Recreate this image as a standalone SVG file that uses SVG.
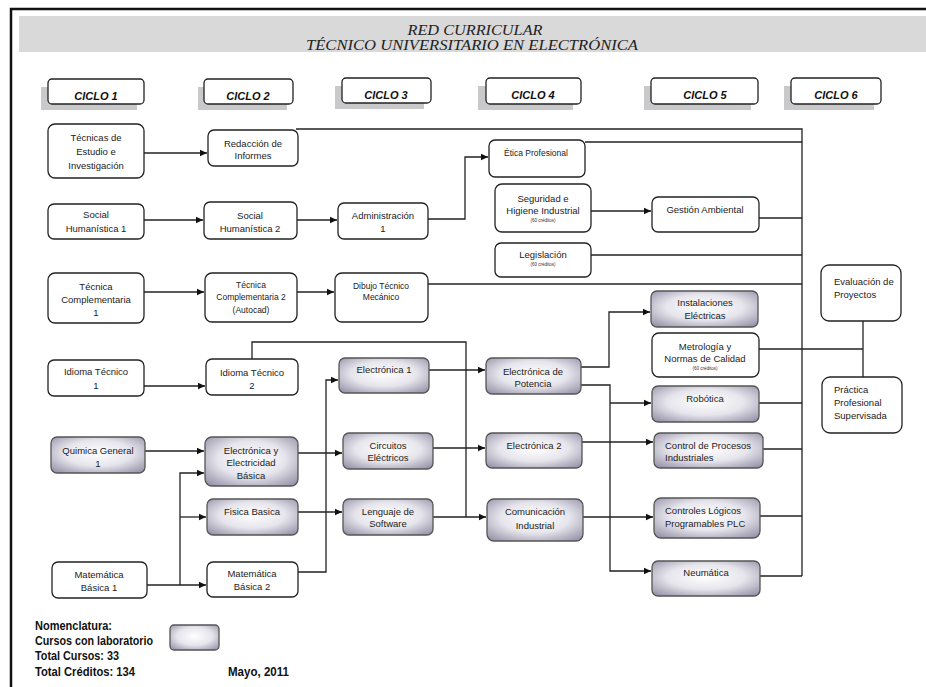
<svg xmlns="http://www.w3.org/2000/svg" width="926" height="687" viewBox="0 0 926 687">
<defs>
<radialGradient id="lab" cx="50%" cy="45%" r="72%">
<stop offset="0" stop-color="#ffffff"/>
<stop offset="0.5" stop-color="#e6e5ec"/>
<stop offset="1" stop-color="#8f8ca2"/>
</radialGradient>
<marker id="ar" markerWidth="8" markerHeight="8" refX="7" refY="4" orient="auto" markerUnits="userSpaceOnUse">
<path d="M0,0.8 L7,4 L0,7.2 Z" fill="#111"/>
</marker>
<style>
.n{fill:#fff;stroke:#222;stroke-width:1.3}
.l{fill:url(#lab);stroke:#555;stroke-width:1.3}
.hd{fill:#fff;stroke:#222;stroke-width:1.3}
.sh{fill:#c9c9cb}
.t{font-family:"Liberation Sans",Arial,sans-serif;font-size:9.5px;fill:#222;text-anchor:middle}
.ts{font-family:"Liberation Sans",Arial,sans-serif;font-size:4.5px;fill:#333;text-anchor:middle}
.tl{text-anchor:start}
.h{font-family:"Liberation Sans",Arial,sans-serif;font-size:11px;font-weight:bold;font-style:italic;fill:#111;text-anchor:middle}
.ti{font-family:"Liberation Serif","Times New Roman",serif;font-size:15px;font-style:italic;fill:#222;text-anchor:middle}
.lg{font-family:"Liberation Sans",Arial,sans-serif;font-size:12.5px;font-weight:bold;fill:#111}
.c{fill:none;stroke:#222;stroke-width:1.3}
.a{marker-end:url(#ar)}
</style>
</defs>
<rect x="0" y="0" width="926" height="687" fill="#fff"/>
<path d="M11,687 V9 H926" fill="none" stroke="#111" stroke-width="2.5"/>
<g id="title">
<rect x="19" y="16" width="907" height="36" fill="#d9d9d9"/>
<text class="ti" x="475" y="35" textLength="135" lengthAdjust="spacingAndGlyphs">RED CURRICULAR</text>
<text class="ti" x="472" y="50" textLength="332" lengthAdjust="spacingAndGlyphs">TÉCNICO UNIVERSITARIO EN ELECTRÓNICA</text>
</g>
<g id="headers">
<g id="ciclo1"><rect class="sh" x="41" y="87" width="96" height="23"/><rect class="hd" x="48" y="79" width="96" height="25" rx="4"/><text class="h" x="96" y="100">CICLO 1</text></g>
<g id="ciclo2"><rect class="sh" x="198" y="87" width="89" height="23"/><rect class="hd" x="204" y="79" width="89" height="25" rx="4"/><text class="h" x="248" y="100">CICLO 2</text></g>
<g id="ciclo3"><rect class="sh" x="335" y="86" width="89" height="23"/><rect class="hd" x="342" y="78" width="89" height="25" rx="4"/><text class="h" x="386" y="99">CICLO 3</text></g>
<g id="ciclo4"><rect class="sh" x="478" y="86" width="95" height="24"/><rect class="hd" x="486" y="78" width="95" height="26" rx="4"/><text class="h" x="533" y="99">CICLO 4</text></g>
<g id="ciclo5"><rect class="sh" x="644" y="86" width="107" height="24"/><rect class="hd" x="651" y="78" width="107" height="26" rx="4"/><text class="h" x="705" y="99">CICLO 5</text></g>
<g id="ciclo6"><rect class="sh" x="784" y="86" width="90" height="24"/><rect class="hd" x="791" y="78" width="90" height="26" rx="4"/><text class="h" x="836" y="99">CICLO 6</text></g>
</g>
<g id="connectors">
<path class="c" d="M296,129 H802 V576"/>
<path class="c a" d="M144,153 H207"/>
<path class="c a" d="M144,220 H203"/>
<path class="c a" d="M297,220 H337"/>
<path class="c a" d="M428,219 H465 V157 H488"/>
<path class="c" d="M585,142 H802"/>
<path class="c a" d="M591,211 H651"/>
<path class="c" d="M759,218 H802"/>
<path class="c" d="M591,255 H802"/>
<path class="c a" d="M144,292 H204"/>
<path class="c a" d="M297,292 H334"/>
<path class="c" d="M428,284 H802"/>
<path class="c a" d="M144,386 H205"/>
<path class="c" d="M252,359 V342 H466 V517"/>
<path class="c a" d="M429,370 H485"/>
<path class="c a" d="M433,448 H485"/>
<path class="c a" d="M433,517 H486"/>
<path class="c a" d="M145,451 H204"/>
<path class="c a" d="M298,453 H342"/>
<path class="c a" d="M298,512 H342"/>
<path class="c a" d="M298,572 H326 V380 H338"/>
<path class="c a" d="M147,585 H206"/>
<path class="c a" d="M180,585 V473 H204"/>
<path class="c a" d="M180,517 H206"/>
<path class="c a" d="M581,367 H609 V312 H650"/>
<path class="c a" d="M581,385 H610 V571 H651"/>
<path class="c a" d="M610,403 H651"/>
<path class="c a" d="M582,442 H653"/>
<path class="c a" d="M583,517 H653"/>
<path class="c" d="M759,403 H802"/>
<path class="c" d="M763,449 H802"/>
<path class="c" d="M760,516 H802"/>
<path class="c" d="M760,576 H802"/>
<path class="c" d="M759,349 H863"/>
<path class="c" d="M863,321 V377"/>
</g>
<g id="n-tecnicas-estudio"><rect class="n" x="48" y="124" width="96" height="54" rx="7"/><text class="t" x="96" y="141">Técnicas de</text><text class="t" x="96" y="155">Estudio e</text><text class="t" x="96" y="169">Investigación</text></g>
<g id="n-social1"><rect class="n" x="48" y="204" width="96" height="35" rx="6"/><text class="t" x="96" y="218">Social</text><text class="t" x="96" y="232">Humanística 1</text></g>
<g id="n-tecnica-comp1"><rect class="n" x="48" y="273" width="96" height="50" rx="7"/><text class="t" x="96" y="290">Técnica</text><text class="t" x="96" y="303">Complementaria</text><text class="t" x="96" y="316">1</text></g>
<g id="n-idioma1"><rect class="n" x="48" y="360" width="96" height="36" rx="6"/><text class="t" x="96" y="375">Idioma Técnico</text><text class="t" x="96" y="389">1</text></g>
<g id="n-quimica"><rect class="l" x="51" y="437" width="94" height="36" rx="6"/><text class="t" x="98" y="454">Quimica General</text><text class="t" x="98" y="467">1</text></g>
<g id="n-matematica1"><rect class="n" x="52" y="562" width="95" height="36" rx="6"/><text class="t" x="99" y="578">Matemática</text><text class="t" x="99" y="591">Básica 1</text></g>
<g id="n-redaccion"><rect class="n" x="208" y="130" width="90" height="36" rx="6"/><text class="t" x="253" y="147">Redacción de</text><text class="t" x="253" y="159">Informes</text></g>
<g id="n-social2"><rect class="n" x="204" y="202" width="93" height="37" rx="6"/><text class="t" x="250" y="219">Social</text><text class="t" x="250" y="232">Humanística 2</text></g>
<g id="n-tecnica-comp2"><rect class="n" x="205" y="273" width="92" height="49" rx="7"/><text class="t" x="251" y="288" style="font-size:8.5px">Técnica</text><text class="t" x="251" y="300" style="font-size:8.5px">Complementaria  2</text><text class="t" x="251" y="313" style="font-size:8.5px">(Autocad)</text></g>
<g id="n-idioma2"><rect class="n" x="206" y="359" width="92" height="36" rx="6"/><text class="t" x="252" y="376">Idioma Técnico</text><text class="t" x="252" y="389">2</text></g>
<g id="n-electronica-electricidad"><rect class="l" x="205" y="437" width="93" height="49" rx="7"/><text class="t" x="251" y="454">Electrónica y</text><text class="t" x="251" y="466">Electricidad</text><text class="t" x="251" y="479">Básica</text></g>
<g id="n-fisica"><rect class="l" x="207" y="499" width="91" height="36" rx="6"/><text class="t" x="252" y="515">Fisica Basica</text></g>
<g id="n-matematica2"><rect class="n" x="207" y="562" width="91" height="35" rx="6"/><text class="t" x="252" y="577">Matemática</text><text class="t" x="252" y="590">Básica 2</text></g>
<g id="n-administracion"><rect class="n" x="338" y="203" width="90" height="36" rx="6"/><text class="t" x="383" y="219">Administración</text><text class="t" x="383" y="232">1</text></g>
<g id="n-dibujo"><rect class="n" x="335" y="273" width="93" height="49" rx="7"/><text class="t" x="381" y="289" style="font-size:8.5px">Dibujo Técnico</text><text class="t" x="381" y="300" style="font-size:8.5px">Mecánico</text></g>
<g id="n-electronica1"><rect class="l" x="339" y="358" width="90" height="35" rx="6"/><text class="t" x="384" y="373">Electrónica 1</text></g>
<g id="n-circuitos"><rect class="l" x="343" y="433" width="90" height="36" rx="6"/><text class="t" x="388" y="449">Circuitos</text><text class="t" x="388" y="461">Eléctricos</text></g>
<g id="n-lenguaje"><rect class="l" x="343" y="499" width="90" height="36" rx="6"/><text class="t" x="388" y="515">Lenguaje de</text><text class="t" x="388" y="527">Software</text></g>
<g id="n-etica"><rect class="n" x="489" y="140" width="96" height="37" rx="6"/><text class="t" x="536" y="156" style="font-size:8.5px">Ética Profesional</text></g>
<g id="n-seguridad"><rect class="n" x="495" y="184" width="96" height="48" rx="7"/><text class="t" x="543" y="202">Seguridad e</text><text class="t" x="543" y="214">Higiene Industrial</text><text class="ts" x="543" y="222">(60 créditos)</text></g>
<g id="n-legislacion"><rect class="n" x="495" y="243" width="96" height="34" rx="6"/><text class="t" x="543" y="258">Legislación</text><text class="ts" x="543" y="266">(60 créditos)</text></g>
<g id="n-potencia"><rect class="l" x="486" y="358" width="95" height="36" rx="6"/><text class="t" x="533" y="375">Electrónica de</text><text class="t" x="533" y="387">Potencia</text></g>
<g id="n-electronica2"><rect class="l" x="486" y="433" width="96" height="35" rx="6"/><text class="t" x="534" y="449">Electrónica 2</text></g>
<g id="n-comunicacion"><rect class="l" x="487" y="499" width="96" height="42" rx="7"/><text class="t" x="535" y="515">Comunicación</text><text class="t" x="535" y="529">Industrial</text></g>
<g id="n-gestion"><rect class="n" x="652" y="197" width="107" height="35" rx="6"/><text class="t" x="705" y="213">Gestión  Ambiental</text></g>
<g id="n-instalaciones"><rect class="l" x="651" y="291" width="107" height="36" rx="6"/><text class="t" x="705" y="306">Instalaciones</text><text class="t" x="705" y="319">Eléctricas</text></g>
<g id="n-metrologia"><rect class="n" x="652" y="333" width="107" height="44" rx="7"/><text class="t" x="705" y="350">Metrología y</text><text class="t" x="705" y="362">Normas de Calidad</text><text class="ts" x="705" y="370">(60 créditos)</text></g>
<g id="n-robotica"><rect class="l" x="652" y="386" width="107" height="36" rx="6"/><text class="t" x="705" y="402">Robótica</text></g>
<g id="n-control"><rect class="l" x="654" y="433" width="109" height="35" rx="6"/><text class="t tl" x="665" y="449">Control de Procesos</text><text class="t tl" x="665" y="461">Industriales</text></g>
<g id="n-plc"><rect class="l" x="654" y="498" width="106" height="40" rx="7"/><text class="t tl" x="665" y="514">Controles Lógicos</text><text class="t tl" x="665" y="527">Programables PLC</text></g>
<g id="n-neumatica"><rect class="l" x="652" y="561" width="108" height="35" rx="6"/><text class="t" x="706" y="576">Neumática</text></g>
<g id="n-evaluacion"><rect class="n" x="821" y="265" width="80" height="56" rx="8"/><text class="t tl" x="834" y="285">Evaluación de</text><text class="t tl" x="834" y="298">Proyectos</text></g>
<g id="n-practica"><rect class="n" x="822" y="377" width="80" height="56" rx="8"/><text class="t tl" x="834" y="393">Práctica</text><text class="t tl" x="834" y="406">Profesional</text><text class="t tl" x="834" y="419">Supervisada</text></g>
<g id="legend">
<text class="lg" x="35" y="630" textLength="77" lengthAdjust="spacingAndGlyphs">Nomenclatura:</text>
<text class="lg" x="35" y="645" textLength="118" lengthAdjust="spacingAndGlyphs">Cursos con laboratorio</text>
<text class="lg" x="35" y="660" textLength="84" lengthAdjust="spacingAndGlyphs">Total Cursos: 33</text>
<text class="lg" x="35" y="676" textLength="100" lengthAdjust="spacingAndGlyphs">Total Créditos: 134</text>
<rect class="l" x="170" y="625" width="49" height="25" rx="4"/>
<text class="lg" x="228" y="676" textLength="61" lengthAdjust="spacingAndGlyphs">Mayo, 2011</text>
</g>
</svg>
